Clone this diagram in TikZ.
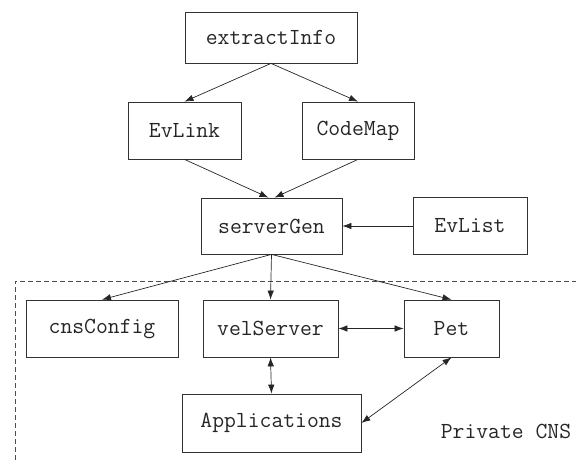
\documentclass[tikz,border=0pt]{standalone}
\usetikzlibrary{arrows.meta}
\begin{document}
\begin{tikzpicture}[x=1pt,y=-1pt,
  lbl/.style={font=\ttfamily\fontsize{23}{23}\selectfont, text=black!85},
  box/.style={lbl, draw=black!80, line width=0.8pt, inner sep=0pt},
  arr/.style={draw=black!85, line width=0.7pt, -{Latex[length=9pt,width=6.5pt]}},
  biarr/.style={draw=black!85, line width=0.7pt, {Latex[length=9pt,width=6.5pt]}-{Latex[length=9pt,width=6.5pt]}}]
\useasboundingbox (0,0) rectangle (576,460);
% dashed region
\draw[black!70, line width=0.7pt, dash pattern=on 5pt off 3pt] (15,460) -- (15,281) -- (576,281);
\node[box, minimum width=172pt, minimum height=51pt] (ext) at (271,37.5) {extractInfo};
\node[box, minimum width=113pt, minimum height=57pt] (evlink) at (184.5,130.5) {EvLink};
\node[box, minimum width=112pt, minimum height=57pt] (codemap) at (358,130.5) {CodeMap};
\node[box, minimum width=141pt, minimum height=56pt] (sg) at (271.5,226) {serverGen};
\node[box, minimum width=114pt, minimum height=57pt] (evlist) at (470,226) {EvList};
\node[box, minimum width=152pt, minimum height=57pt] (cns) at (102,328.5) {cnsConfig};
\node[box, minimum width=135pt, minimum height=57pt] (vel) at (270.5,328.5) {velServer};
\node[box, minimum width=95pt, minimum height=57pt] (pet) at (451.5,328.5) {Pet};
\node[box, minimum width=179pt, minimum height=58pt] (app) at (271.5,423) {Applications};
\node[lbl, inner sep=0pt] (priv) at (506,431) {Private CNS};
\draw[arr] (ext.south) -- (evlink.north);
\draw[arr] (ext.south) -- (codemap.north);
\draw[arr] (evlink.south) -- ([xshift=-3pt]sg.north);
\draw[arr] (codemap.south) -- ([xshift=3pt]sg.north);
\draw[arr] (evlist.west) -- (sg.east);
\draw[arr] (sg.south) -- (cns.north);
\draw[arr] (sg.south) -- (vel.north);
\draw[arr] (sg.south) -- (pet.north);
\draw[biarr] (vel.east) -- (pet.west);
\draw[biarr] (vel.south) -- (app.north);
\draw[biarr] (pet.south) -- (app.east);
\end{tikzpicture}
\end{document}
